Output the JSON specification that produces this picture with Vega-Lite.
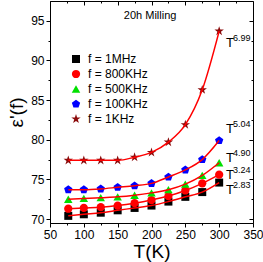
{
  "$schema": "https://vega.github.io/schema/vega-lite/v6.json",
  "autosize": "none",
  "width": 203,
  "height": 222,
  "padding": {"left": 50, "top": 1, "right": 10, "bottom": 39},
  "background": "white",
  "config": {
    "font": "Liberation Sans",
    "view": {"stroke": "#000", "strokeWidth": 1},
    "axis": {"grid": false, "domainColor": "#000", "tickColor": "#000", "labelColor": "#000", "titleColor": "#000", "labelFontSize": 12, "titleFontWeight": "normal", "labelOverlap": false, "labelFlush": false}
  },
  "resolve": {"axis": {"x": "independent", "y": "independent"}},
  "datasets": {
    "pts": [
      {"T": 77, "eps": 70.4, "f": "f = 1MHz"},
      {"T": 100, "eps": 70.6, "f": "f = 1MHz"},
      {"T": 125, "eps": 70.8, "f": "f = 1MHz"},
      {"T": 150, "eps": 71.1, "f": "f = 1MHz"},
      {"T": 175, "eps": 71.4, "f": "f = 1MHz"},
      {"T": 200, "eps": 71.7, "f": "f = 1MHz"},
      {"T": 225, "eps": 72.2, "f": "f = 1MHz"},
      {"T": 250, "eps": 72.8, "f": "f = 1MHz"},
      {"T": 275, "eps": 73.4, "f": "f = 1MHz"},
      {"T": 300, "eps": 74.6, "f": "f = 1MHz"},
      {"T": 77, "eps": 71.3, "f": "f = 800KHz"},
      {"T": 100, "eps": 71.4, "f": "f = 800KHz"},
      {"T": 125, "eps": 71.5, "f": "f = 800KHz"},
      {"T": 150, "eps": 71.7, "f": "f = 800KHz"},
      {"T": 175, "eps": 72.0, "f": "f = 800KHz"},
      {"T": 200, "eps": 72.4, "f": "f = 800KHz"},
      {"T": 225, "eps": 72.9, "f": "f = 800KHz"},
      {"T": 250, "eps": 73.6, "f": "f = 800KHz"},
      {"T": 275, "eps": 74.5, "f": "f = 800KHz"},
      {"T": 300, "eps": 75.6, "f": "f = 800KHz"},
      {"T": 77, "eps": 72.5, "f": "f = 500KHz"},
      {"T": 100, "eps": 72.6, "f": "f = 500KHz"},
      {"T": 125, "eps": 72.7, "f": "f = 500KHz"},
      {"T": 150, "eps": 72.8, "f": "f = 500KHz"},
      {"T": 175, "eps": 73.0, "f": "f = 500KHz"},
      {"T": 200, "eps": 73.3, "f": "f = 500KHz"},
      {"T": 225, "eps": 73.7, "f": "f = 500KHz"},
      {"T": 250, "eps": 74.4, "f": "f = 500KHz"},
      {"T": 275, "eps": 75.5, "f": "f = 500KHz"},
      {"T": 300, "eps": 77.1, "f": "f = 500KHz"},
      {"T": 77, "eps": 73.7, "f": "f = 100KHz"},
      {"T": 100, "eps": 73.7, "f": "f = 100KHz"},
      {"T": 125, "eps": 73.8, "f": "f = 100KHz"},
      {"T": 150, "eps": 74.0, "f": "f = 100KHz"},
      {"T": 175, "eps": 74.2, "f": "f = 100KHz"},
      {"T": 200, "eps": 74.5, "f": "f = 100KHz"},
      {"T": 225, "eps": 75.3, "f": "f = 100KHz"},
      {"T": 250, "eps": 76.2, "f": "f = 100KHz"},
      {"T": 275, "eps": 77.5, "f": "f = 100KHz"},
      {"T": 300, "eps": 79.9, "f": "f = 100KHz"},
      {"T": 77, "eps": 77.4, "f": "f = 1KHz"},
      {"T": 100, "eps": 77.4, "f": "f = 1KHz"},
      {"T": 125, "eps": 77.4, "f": "f = 1KHz"},
      {"T": 150, "eps": 77.4, "f": "f = 1KHz"},
      {"T": 175, "eps": 77.8, "f": "f = 1KHz"},
      {"T": 200, "eps": 78.4, "f": "f = 1KHz"},
      {"T": 225, "eps": 79.7, "f": "f = 1KHz"},
      {"T": 250, "eps": 81.9, "f": "f = 1KHz"},
      {"T": 275, "eps": 86.3, "f": "f = 1KHz"},
      {"T": 300, "eps": 93.7, "f": "f = 1KHz"}
    ],
    "ann": [
      {"T": 316, "eps": 92.2, "p": "6.99"},
      {"T": 316, "eps": 81.4, "p": "5.04"},
      {"T": 316, "eps": 77.7, "p": "4.90"},
      {"T": 316, "eps": 75.6, "p": "3.24"},
      {"T": 316, "eps": 73.7, "p": "2.83"}
    ],
    "title": [{"T": 198, "eps": 95.6, "t": "20h Milling"}]
  },
  "layer": [
    {
      "data": {"name": "title"},
      "mark": {"type": "text", "fontSize": 11, "align": "center", "baseline": "middle", "color": "#000"},
      "encoding": {
        "x": {"field": "T", "type": "quantitative", "scale": {"domain": [50, 350], "nice": false, "zero": false},
              "axis": {"orient": "top", "values": [50, 75, 100, 125, 150, 175, 200, 225, 250, 275, 300, 325, 350], "labels": false, "title": null, "domain": false,
                       "tickSize": {"condition": {"test": "datum.value % 50 === 0", "value": -4}, "value": -2}}},
        "y": {"field": "eps", "type": "quantitative", "scale": {"domain": [69.5, 97.5], "nice": false, "zero": false},
              "axis": {"orient": "right", "values": [70, 72.5, 75, 77.5, 80, 82.5, 85, 87.5, 90, 92.5, 95], "labels": false, "title": null, "domain": false,
                       "tickSize": {"condition": {"test": "datum.value % 5 === 0", "value": -4}, "value": -2}}},
        "text": {"field": "t"}
      }
    },
    {
      "data": {"name": "pts"},
      "mark": {"type": "point", "filled": true, "opacity": 1},
      "encoding": {
        "x": {"field": "T", "type": "quantitative", "scale": {"domain": [50, 350], "nice": false, "zero": false},
              "axis": {"orient": "bottom", "values": [50, 75, 100, 125, 150, 175, 200, 225, 250, 275, 300, 325, 350], "title": "T(K)", "titleFontSize": 19, "titlePadding": 2, "labelPadding": 2,
                       "labelExpr": "datum.value % 50 === 0 ? datum.label : ''",
                       "tickSize": {"condition": {"test": "datum.value % 50 === 0", "value": 4}, "value": 2}}},
        "y": {"field": "eps", "type": "quantitative", "scale": {"domain": [69.5, 97.5], "nice": false, "zero": false},
              "axis": {"orient": "left", "values": [70, 72.5, 75, 77.5, 80, 82.5, 85, 87.5, 90, 92.5, 95], "title": "ε'(f)", "titleFontSize": 19, "titlePadding": 4, "labelPadding": 2,
                       "labelExpr": "datum.value % 5 === 0 ? datum.label : ''",
                       "tickSize": {"condition": {"test": "datum.value % 5 === 0", "value": 4}, "value": 2}}},
        "color": {"field": "f", "type": "nominal",
                  "scale": {"domain": ["f = 1MHz", "f = 800KHz", "f = 500KHz", "f = 100KHz", "f = 1KHz"], "range": ["#000000", "#ff0000", "#00e000", "#0000ff", "#8b0a0a"]},
                  "legend": {"orient": "none", "legendX": 20, "legendY": 52, "title": null, "labelFontSize": 12, "rowPadding": 3, "labelOffset": 6}},
        "shape": {"field": "f", "type": "nominal",
                  "scale": {"domain": ["f = 1MHz", "f = 800KHz", "f = 500KHz", "f = 100KHz", "f = 1KHz"],
                            "range": ["square", "circle", "triangle-up", "M0,-1L0.951,-0.309L0.588,0.809L-0.588,0.809L-0.951,-0.309Z", "M0,-1.1L0.25,-0.34L1.05,-0.34L0.4,0.13L0.65,0.9L0,0.42L-0.65,0.9L-0.4,0.13L-1.05,-0.34L-0.25,-0.34Z"]}},
        "size": {"field": "f", "type": "nominal",
                 "scale": {"domain": ["f = 1MHz", "f = 800KHz", "f = 500KHz", "f = 100KHz", "f = 1KHz"], "range": [64, 80, 80, 90, 150]}}
      }
    },
    {
      "data": {"name": "pts"},
      "mark": {"type": "line", "color": "#ff0000", "strokeWidth": 1.5, "interpolate": "monotone"},
      "encoding": {
        "x": {"field": "T", "type": "quantitative", "axis": null},
        "y": {"field": "eps", "type": "quantitative", "axis": null},
        "detail": {"field": "f", "type": "nominal"}
      }
    },
    {
      "data": {"name": "ann"},
      "mark": {"type": "text", "text": "T", "fontSize": 13, "align": "center", "baseline": "middle", "color": "#000"},
      "encoding": {
        "x": {"field": "T", "type": "quantitative", "axis": null},
        "y": {"field": "eps", "type": "quantitative", "axis": null}
      }
    },
    {
      "data": {"name": "ann"},
      "mark": {"type": "text", "fontSize": 9, "align": "left", "baseline": "middle", "dx": 3, "dy": -5, "color": "#000"},
      "encoding": {
        "x": {"field": "T", "type": "quantitative", "axis": null},
        "y": {"field": "eps", "type": "quantitative", "axis": null},
        "text": {"field": "p"}
      }
    }
  ]
}
